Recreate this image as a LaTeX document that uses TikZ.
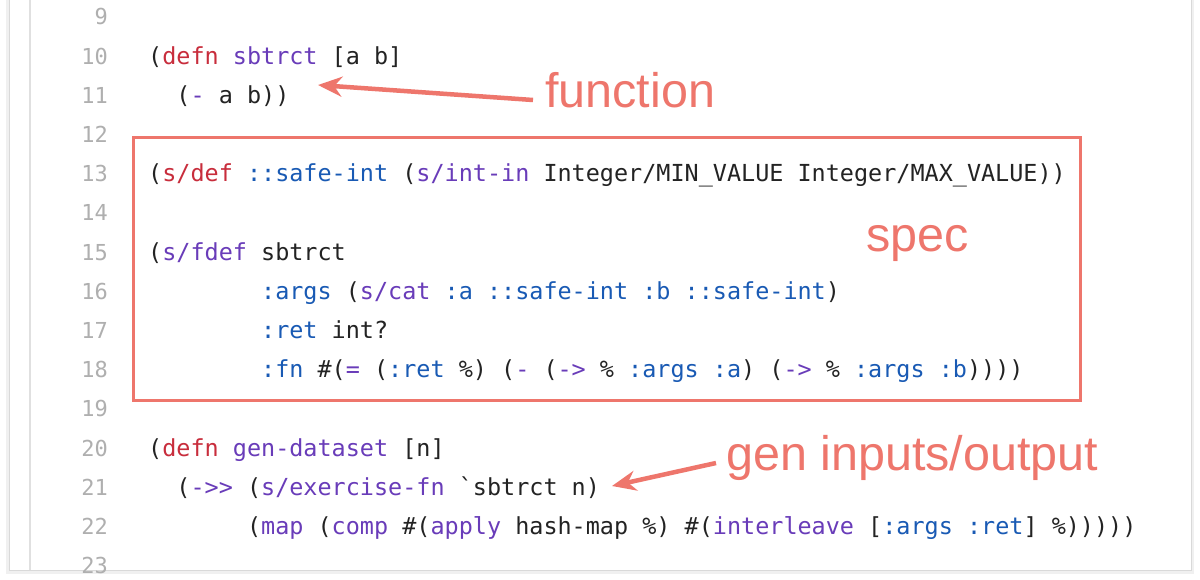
\documentclass[tikz,border=0pt]{standalone}
\usepackage{fontspec}
\setmainfont{Liberation Sans}
\newfontfamily\code{DejaVu Sans Mono}
\usetikzlibrary{arrows.meta}
\definecolor{kred}{RGB}{200,45,60}
\definecolor{kpur}{RGB}{105,60,185}
\definecolor{kblu}{RGB}{25,90,180}
\definecolor{salmon}{RGB}{238,118,108}
\definecolor{numg}{RGB}{175,175,175}
\definecolor{ink}{RGB}{35,35,35}
\newcommand\kr[1]{\textcolor{kred}{#1}}
\newcommand\kp[1]{\textcolor{kpur}{#1}}
\newcommand\kb[1]{\textcolor{kblu}{#1}}
\newcommand\bq{\symbol{96}}
\tikzset{
  codeline/.style={anchor=base west,inner sep=0pt,text=ink,font=\code\fontsize{23.45}{26}\selectfont},
  lnum/.style={anchor=base east,inner sep=0pt,text=numg,font=\code\fontsize{22}{26}\selectfont},
  note/.style={text=salmon,font=\fontsize{48.5}{52}\selectfont,inner sep=0pt},
  notearrow/.style={draw=salmon,line width=4.5pt,-{Stealth[length=24pt,width=20pt]}}
}
\begin{document}
\begin{tikzpicture}[x=1pt,y=-1pt]
\useasboundingbox (0,0) rectangle (1200,579);
\fill[white] (0,0) rectangle (1200,579);
% card shadow and border
\fill[black!6] (6,0) rectangle (1194,574);
\fill[white,draw=black!15,line width=0.8pt] (9,-2) rectangle (1191,570);
\draw[black!12,line width=1.2pt] (30,0) -- (30,570);
% line numbers
\foreach \n in {9,...,23}{
  \node[lnum] (n\n) at (108,{64+(\n-10)*39.2}) {\n};
}
\def\Y#1{{64+(#1-10)*39.2}}
\node[codeline] (l10) at (148,\Y{10}) {(\kr{defn} \kp{sbtrct} [a b]};
\node[codeline] (l11) at (148,\Y{11}) {\ \ (\kp{-} a b))};
\node[codeline] (l13) at (148,\Y{13}) {(\kr{s/def} \kb{::safe-int} (\kp{s/int-in} Integer/MIN\_VALUE Integer/MAX\_VALUE))};
\node[codeline] (l15) at (148,\Y{15}) {(\kp{s/fdef} sbtrct};
\node[codeline] (l16) at (148,\Y{16}) {\ \ \ \ \ \ \ \ \kb{:args} (\kp{s/cat} \kb{:a} \kb{::safe-int} \kb{:b} \kb{::safe-int})};
\node[codeline] (l17) at (148,\Y{17}) {\ \ \ \ \ \ \ \ \kb{:ret} int?};
\node[codeline] (l18) at (148,\Y{18}) {\ \ \ \ \ \ \ \ \kb{:fn} \#(\kp{=} (\kb{:ret} \%) (\kp{-} (\kp{->} \% \kb{:args} \kb{:a}) (\kp{->} \% \kb{:args} \kb{:b}))))};
\node[codeline] (l20) at (148,\Y{20}) {(\kr{defn} \kp{gen-dataset} [n]};
\node[codeline] (l21) at (148,\Y{21}) {\ \ (\kp{->>} (\kp{s/exercise-fn} \bq sbtrct n)};
\node[codeline] (l22) at (148,\Y{22}) {\ \ \ \ \ \ \ (\kp{map} (\kp{comp} \#(\kp{apply} hash-map \%) \#(\kp{interleave} [\kb{:args} \kb{:ret}] \%)))))};
% spec box
\draw[salmon,line width=3pt] (133,137) rectangle (1080,400);
% notes
\node[note,anchor=west] (fn) at (545,90) {function};
\node[note,anchor=west] (spec) at (866,243) {spec};
\node[note,anchor=west] (gen) at (726,458) {gen inputs/output};
\coordinate (fnt) at (318,85);
\coordinate (gent) at (612,486);
\draw[notearrow] (fn.west) ++(-12,10) -- (fnt);
\draw[notearrow] (gen.west) ++(-10,5) -- (gent);
\end{tikzpicture}
\end{document}
